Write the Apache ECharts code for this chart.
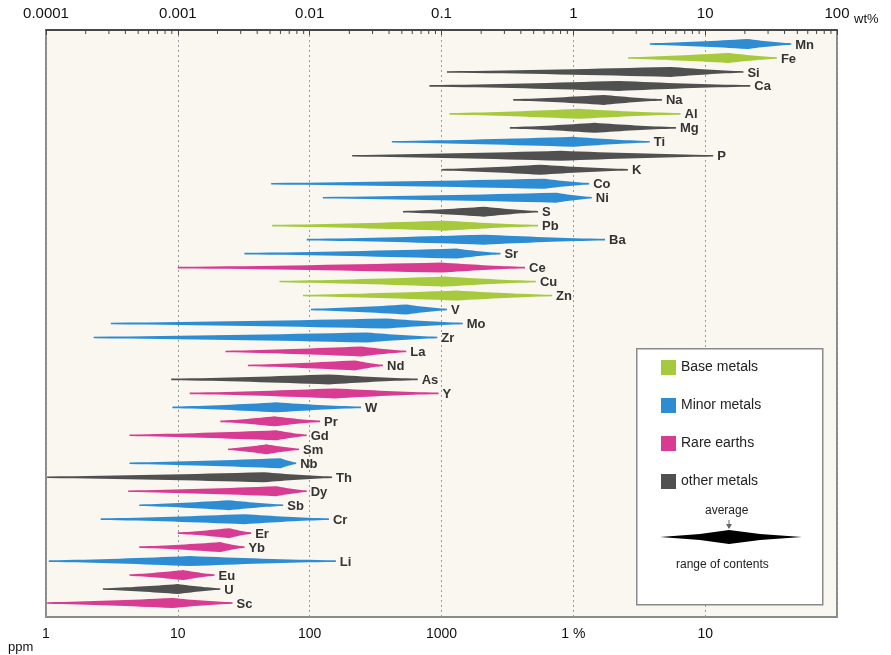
<!DOCTYPE html>
<html>
<head>
<meta charset="utf-8">
<title>Element contents</title>
<script src="https://cdn.jsdelivr.net/npm/echarts@6/dist/echarts.min.js"></script>
<style>
  html, body { margin: 0; padding: 0; background: #fff; }
  #chart { width: 891px; height: 655px; }
</style>
</head>
<body>
<div id="chart"></div>
<script>
// elements from top row to bottom row
var elements = ['Mn', 'Fe', 'Si', 'Ca', 'Na', 'Al', 'Mg', 'Ti', 'P', 'K',
  'Co', 'Ni', 'S', 'Pb', 'Ba', 'Sr', 'Ce', 'Cu', 'Zn', 'V',
  'Mo', 'Zr', 'La', 'Nd', 'As', 'Y', 'W', 'Pr', 'Gd', 'Sm',
  'Nb', 'Th', 'Dy', 'Sb', 'Cr', 'Er', 'Yb', 'Li', 'Eu', 'U', 'Sc']
// B = base metals, M = minor metals, R = rare earths, O = other metals
var groups = ['M', 'B', 'O', 'O', 'O', 'B', 'O', 'M', 'O', 'O',
  'M', 'M', 'O', 'B', 'M', 'M', 'R', 'B', 'B', 'M',
  'M', 'M', 'R', 'R', 'O', 'R', 'M', 'R', 'R', 'R',
  'M', 'O', 'R', 'M', 'M', 'R', 'R', 'M', 'R', 'O', 'R']
// contents in wt%
var minWt = [3.8, 2.6, 0.11, 0.081, 0.35, 0.115, 0.33, 0.042, 0.021, 0.1,
  0.0051, 0.0126, 0.051, 0.0052, 0.0095, 0.0032, 0.001, 0.0059, 0.0089, 0.0102,
  0.00031, 0.00023, 0.0023, 0.0034, 0.00089, 0.00123, 0.00091, 0.0021, 0.00043, 0.0024,
  0.00043, 0.000102, 0.00042, 0.00051, 0.00026, 0.001, 0.00051, 0.000105, 0.00043, 0.00027, 0.000102]
var avgWt = [21, 15, 5.5, 2.2, 1.7, 1.1, 1.45, 1.0, 0.8, 0.56,
  0.6, 0.74, 0.21, 0.107, 0.21, 0.13, 0.1, 0.107, 0.13, 0.054,
  0.038, 0.027, 0.0245, 0.022, 0.014, 0.0155, 0.0056, 0.0054, 0.0056, 0.0047,
  0.006, 0.0045, 0.0056, 0.00245, 0.0032, 0.00245, 0.0021, 0.00123, 0.0011, 0.001, 0.00091]
var maxWt = [45, 35, 19.5, 22, 4.7, 6.5, 6, 3.8, 11.5, 2.6,
  1.32, 1.38, 0.54, 0.54, 1.74, 0.28, 0.43, 0.52, 0.69, 0.11,
  0.145, 0.093, 0.054, 0.036, 0.066, 0.095, 0.0245, 0.012, 0.0095, 0.0083,
  0.0079, 0.0148, 0.0095, 0.0063, 0.014, 0.0036, 0.0032, 0.0158, 0.0019, 0.0021, 0.0026]

var groupKeys = ['B', 'M', 'R', 'O']
var groupNames = ['Base metals', 'Minor metals', 'Rare earths', 'other metals']
var groupColors = ['#a6c93e', '#2e8dd2', '#d83b92', '#505050']

var topTickLabels = ['0.0001', '0.001', '0.01', '0.1', '1', '10', '100']
var bottomTickLabels = ['1', '10', '100', '1000', '1 %', '10', '']

// minor ticks of the wt% axis (2..9 in each decade)
var minorTicks = []
for (var d = -4; d < 2; d++) {
  for (var k = 2; k < 10; k++) minorTicks.push(k * Math.pow(10, d))
}

function decadeIndex(v) {
  return Math.round(Math.log(v) / Math.LN10) + 4
}

var chart = echarts.init(document.getElementById('chart'))

var seriesData = groupKeys.map(function (g) {
  var arr = []
  elements.forEach(function (el, i) {
    if (groups[i] === g) {
      arr.push({ name: el, value: [minWt[i], avgWt[i], maxWt[i], i] })
    }
  })
  return arr
})

// spindle: thin at both ends, widest at the average
function spindleItem(gi) {
  return function (params, api) {
    var row = api.value(3)
    var a = api.coord([api.value(0), row])
    var m = api.coord([api.value(1), row])
    var b = api.coord([api.value(2), row])
    var H = 5, h0 = 0.8, n = 16
    var top = [], bot = [], i, t, x, hh
    for (i = 0; i <= n; i++) {
      t = i / n
      x = a[0] + (m[0] - a[0]) * t
      hh = h0 + (H - h0) * Math.pow(t, 1.35)
      top.push([x, m[1] - hh]); bot.push([x, m[1] + hh])
    }
    for (i = 1; i <= n; i++) {
      t = i / n
      x = m[0] + (b[0] - m[0]) * t
      hh = h0 + (H - h0) * Math.pow(1 - t, 1.35)
      top.push([x, m[1] - hh]); bot.push([x, m[1] + hh])
    }
    var pts = top.concat(bot.reverse())
    return {
      type: 'group',
      children: [{
        type: 'polygon',
        shape: { points: pts },
        style: { fill: api.visual('color') }
      }, {
        type: 'text',
        style: {
          x: b[0] + 4, y: m[1] + 1,
          text: seriesData[gi][params.dataIndex].name,
          fill: '#333',
          font: 'bold 13px "Liberation Sans", Arial, sans-serif',
          verticalAlign: 'middle', align: 'left'
        }
      }]
    }
  }
}

var series = groupKeys.map(function (g, gi) {
  return {
    name: groupNames[gi],
    type: 'custom',
    xAxisIndex: 0,
    yAxisIndex: 0,
    itemStyle: { color: groupColors[gi] },
    renderItem: spindleItem(gi),
    encode: { x: [0, 1, 2], y: 3 },
    data: seriesData[gi],
    z: 3
  }
})

series.push({
  name: 'minor ticks',
  type: 'custom',
  xAxisIndex: 0,
  yAxisIndex: 0,
  silent: true,
  renderItem: function (params, api) {
    var p = api.coord([api.value(0), -1])
    return {
      type: 'line',
      shape: { x1: p[0], y1: p[1], x2: p[0], y2: p[1] + 4 },
      style: { stroke: '#444', lineWidth: 1 }
    }
  },
  data: minorTicks.map(function (v) { return [v] }),
  z: 4
})

chart.setOption({
  backgroundColor: '#fff',
  animation: false,
  textStyle: { fontFamily: '"Liberation Sans", Arial, sans-serif' },
  grid: {
    left: 46, right: 54, top: 30, bottom: 38,
    show: true, backgroundColor: '#f9f7f0',
    borderColor: '#8a8a8a', borderWidth: 2
  },
  legend: {
    data: groupNames,
    orient: 'vertical',
    left: 656, top: 355,
    z: 20,
    icon: 'rect',
    itemWidth: 15, itemHeight: 15,
    itemGap: 23,
    textStyle: { fontSize: 14, color: '#222' },
    selectedMode: false
  },
  xAxis: [{
    type: 'log',
    logBase: 10,
    min: 0.0001, max: 100,
    splitNumber: 6,
    position: 'top',
    axisLine: { show: true, onZero: false, lineStyle: { color: '#333', width: 1.5 } },
    axisTick: { show: true, inside: true, length: 5, lineStyle: { color: '#444' } },
    axisLabel: {
      margin: 9, fontSize: 15, color: '#111',
      formatter: function (v) { return topTickLabels[decadeIndex(v)] }
    },
    splitLine: { show: true, lineStyle: { color: '#9a9a9a', type: [2, 3], width: 1 } }
  }, {
    type: 'log',
    logBase: 10,
    min: 0.0001, max: 100,
    splitNumber: 6,
    position: 'bottom',
    axisLine: { show: false, onZero: false },
    axisTick: { show: false },
    axisLabel: {
      margin: 10, fontSize: 14, color: '#111',
      formatter: function (v) { return bottomTickLabels[decadeIndex(v)] }
    },
    splitLine: { show: false }
  }],
  yAxis: {
    type: 'value',
    min: -1, max: 41,
    inverse: true,
    show: false
  },
  graphic: [
    { type: 'rect', left: 636, top: 348, z: 10,
      shape: { width: 186, height: 256 },
      style: { fill: '#fff', stroke: '#8a8a8a', lineWidth: 1.5 } },
    { type: 'text', left: 705, top: 505, z: 11,
      style: { text: 'average', fontSize: 12, fill: '#222' } },
    { type: 'line', z: 11,
      shape: { x1: 729, y1: 520, x2: 729, y2: 528 },
      style: { stroke: '#666', lineWidth: 1 } },
    { type: 'polygon', z: 11,
      shape: { points: [[726, 524], [732, 524], [729, 529]] },
      style: { fill: '#666' } },
    { type: 'polygon', z: 11,
      shape: { points: [[660, 537], [700, 534], [729, 530], [760, 534], [802, 537], [760, 540], [729, 544], [700, 540]] },
      style: { fill: '#000' } },
    { type: 'text', left: 676, top: 559, z: 11,
      style: { text: 'range of contents', fontSize: 12, fill: '#222' } },
    { type: 'text', left: 854, top: 13,
      style: { text: 'wt%', fontSize: 13, fill: '#111' } },
    { type: 'text', left: 8, top: 641,
      style: { text: 'ppm', fontSize: 13, fill: '#111' } }
  ],
  series: series
})
</script>
</body>
</html>
